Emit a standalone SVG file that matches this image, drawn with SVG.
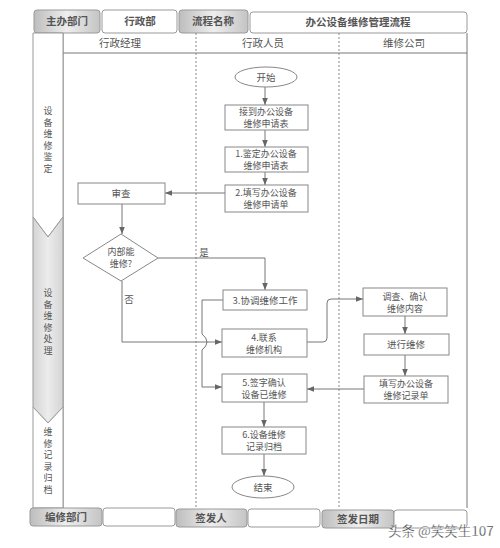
<svg xmlns="http://www.w3.org/2000/svg" width="500" height="548" viewBox="0 0 500 548">
<defs>
<linearGradient id="tabg" x1="0" y1="0" x2="1" y2="0">
<stop offset="0" stop-color="#bdbdbd"/>
<stop offset="0.5" stop-color="#eeeeee"/>
<stop offset="1" stop-color="#c4c4c4"/>
</linearGradient>
<linearGradient id="stg" x1="0" y1="0" x2="1" y2="0">
<stop offset="0" stop-color="#d4d4d4"/>
<stop offset="0.5" stop-color="#ececec"/>
<stop offset="1" stop-color="#d4d4d4"/>
</linearGradient>
<marker id="ah" viewBox="0 0 10 10" refX="10" refY="5" markerWidth="7" markerHeight="7" orient="auto" markerUnits="userSpaceOnUse">
<path d="M0,1 L10,5 L0,9 Z" fill="#666"/>
</marker>
<style>
.tab{fill:url(#tabg);stroke:#999;stroke-width:1}
.wtab{fill:#fff;stroke:#999;stroke-width:1}
.ht{font-family:"Noto Sans CJK SC",sans-serif;font-size:10.5px;font-weight:bold;fill:#555;text-anchor:middle}
.lt{font-family:"Noto Sans CJK SC",sans-serif;font-size:10.5px;fill:#555;text-anchor:middle}
.nt{font-family:"Noto Sans CJK SC",sans-serif;font-size:9.5px;fill:#555;text-anchor:middle}
.nt2{font-family:"Noto Sans CJK SC",sans-serif;font-size:9px;fill:#555;text-anchor:middle}
.box{fill:#fff;stroke:#888;stroke-width:1}
.ln{fill:none;stroke:#777;stroke-width:1}
.ar{fill:none;stroke:#777;stroke-width:1;marker-end:url(#ah)}
.dash{stroke:#888;stroke-width:1;stroke-dasharray:2,2}
.st{font-family:"Noto Sans CJK SC",sans-serif;font-size:9px;fill:#555;text-anchor:middle}
</style>
</defs>
<rect width="500" height="548" fill="#fff"/>
<!-- header -->
<g id="header">
<rect class="tab" x="34" y="10" width="66" height="23" rx="3"/>
<text class="ht" x="67" y="25">主办部门</text>
<rect class="wtab" x="102" y="10" width="75" height="23" rx="3"/>
<text class="ht" x="140" y="25">行政部</text>
<rect class="tab" x="179" y="10" width="69" height="23" rx="3"/>
<text class="ht" x="213" y="25">流程名称</text>
<rect class="wtab" x="250" y="12" width="217" height="21" rx="3"/>
<text class="ht" x="358" y="26">办公设备维修管理流程</text>
</g>
<!-- table frame -->
<g id="table">
<line class="ln" x1="63" y1="53" x2="467" y2="53"/>
<line class="ln" x1="63" y1="33" x2="63" y2="508"/>
<line class="ln" x1="467" y1="33" x2="467" y2="508"/>
<line class="dash" x1="196" y1="33" x2="196" y2="508"/>
<line class="dash" x1="339" y1="33" x2="339" y2="508"/>
<text class="lt" x="120" y="47">行政经理</text>
<text class="lt" x="263" y="47">行政人员</text>
<text class="lt" x="404" y="47">维修公司</text>
</g>
<!-- stages -->
<g id="stage1">
<path d="M33,33 H63 V217 L48,237 L33,217 Z" fill="#fff" stroke="#999"/>
<text class="st"><tspan x="48" y="114">设</tspan><tspan x="48" y="125.5">备</tspan><tspan x="48" y="137">维</tspan><tspan x="48" y="148.5">修</tspan><tspan x="48" y="160">鉴</tspan><tspan x="48" y="171.5">定</tspan></text>
</g>
<g id="stage2">
<path d="M33,217 L48,237 L63,217 V407 L48,423 L33,407 Z" fill="url(#stg)" stroke="#999"/>
<text class="st"><tspan x="48" y="296">设</tspan><tspan x="48" y="307.5">备</tspan><tspan x="48" y="319">维</tspan><tspan x="48" y="330.5">修</tspan><tspan x="48" y="342">处</tspan><tspan x="48" y="353.5">理</tspan></text>
</g>
<g id="stage3">
<path d="M33,407 L48,423 L63,407 V508 H33 Z" fill="#fff" stroke="#999"/>
<text class="st"><tspan x="48" y="435">维</tspan><tspan x="48" y="446.5">修</tspan><tspan x="48" y="458">记</tspan><tspan x="48" y="469.5">录</tspan><tspan x="48" y="481">归</tspan><tspan x="48" y="492.5">档</tspan></text>
</g>
<!-- footer -->
<g id="footer">
<rect class="tab" x="30" y="508" width="72" height="18" rx="3"/>
<text class="ht" x="66" y="521">编修部门</text>
<rect class="wtab" x="103" y="508" width="72" height="18" rx="3"/>
<rect class="tab" x="176" y="509" width="71" height="18" rx="3"/>
<text class="ht" x="211" y="522">签发人</text>
<rect class="wtab" x="248" y="509" width="72" height="18" rx="3"/>
<rect class="tab" x="322" y="510" width="72" height="18" rx="3"/>
<text class="ht" x="358" y="523">签发日期</text>
<rect class="wtab" x="394" y="510" width="73" height="18" rx="3"/>
</g>
<!-- connectors -->
<g id="connectors">
<line class="ar" x1="265" y1="87" x2="265" y2="105"/>
<line class="ar" x1="265" y1="130" x2="265" y2="147"/>
<line class="ar" x1="265" y1="172" x2="265" y2="185"/>
<line class="ar" x1="225" y1="193" x2="165" y2="193"/>
<line class="ar" x1="122" y1="204" x2="122" y2="234"/>
<path class="ar" d="M158,258 H265 V290"/>
<text class="nt" x="204" y="256">是</text>
<path class="ar" d="M122,281 V342 H222"/>
<text class="nt" x="129" y="303">否</text>
<path class="ar" d="M223,300 H202 V334 Q212,342 202,350 V387 H222"/>
<path class="ar" d="M307,342 H323 Q327,342 327,338 V303 Q327,299 331,299 H363"/>
<line class="ar" x1="405" y1="316" x2="405" y2="334"/>
<line class="ar" x1="405" y1="355" x2="405" y2="376"/>
<line class="ar" x1="364" y1="389" x2="307" y2="389"/>
<line class="ar" x1="264" y1="402" x2="264" y2="427"/>
<line class="ar" x1="264" y1="454" x2="264" y2="476"/>
</g>
<!-- nodes -->
<g id="start"><ellipse class="box" cx="266" cy="77" rx="31" ry="10"/><text class="nt" x="266" y="81">开始</text></g>
<g id="n0"><rect class="box" x="225" y="105" width="83" height="25"/><text class="nt2"><tspan x="266" y="115">接到办公设备</tspan><tspan x="266" y="127">维修申请表</tspan></text></g>
<g id="n1"><rect class="box" x="225" y="147" width="83" height="25"/><text class="nt2"><tspan x="266" y="157">1.鉴定办公设备</tspan><tspan x="266" y="169">维修申请表</tspan></text></g>
<g id="n2"><rect class="box" x="225" y="185" width="83" height="27"/><text class="nt2"><tspan x="266" y="196">2.填写办公设备</tspan><tspan x="266" y="208">维修申请单</tspan></text></g>
<g id="review"><rect class="box" x="78" y="183" width="87" height="21"/><text class="nt" x="121" y="197">审查</text></g>
<g id="decision"><path class="box" d="M121,234 L158,258 L121,281 L83,258 Z"/><text class="nt2"><tspan x="121" y="255">内部能</tspan><tspan x="121" y="267">维修?</tspan></text></g>
<g id="n3"><rect class="box" x="223" y="290" width="84" height="20"/><text class="nt" x="265" y="304">3.协调维修工作</text></g>
<g id="n4"><rect class="box" x="222" y="329" width="85" height="28"/><text class="nt2"><tspan x="264" y="340.5">4.联系</tspan><tspan x="264" y="352.5">维修机构</tspan></text></g>
<g id="n5"><rect class="box" x="222" y="374" width="85" height="28"/><text class="nt2"><tspan x="264" y="385.5">5.签字确认</tspan><tspan x="264" y="397.5">设备已维修</tspan></text></g>
<g id="n6"><rect class="box" x="222" y="427" width="84" height="27"/><text class="nt2"><tspan x="264" y="438">6.设备维修</tspan><tspan x="264" y="450">记录归档</tspan></text></g>
<g id="end"><ellipse class="box" cx="263" cy="487" rx="31" ry="11"/><text class="nt" x="263" y="491">结束</text></g>
<g id="c1"><rect class="box" x="363" y="288" width="84" height="28"/><text class="nt2"><tspan x="405" y="299.5">调查、确认</tspan><tspan x="405" y="311.5">维修内容</tspan></text></g>
<g id="c2"><rect class="box" x="364" y="334" width="85" height="21"/><text class="nt" x="406" y="348">进行维修</text></g>
<g id="c3"><rect class="box" x="364" y="376" width="84" height="27"/><text class="nt2"><tspan x="406" y="387">填写办公设备</tspan><tspan x="406" y="399">维修记录单</tspan></text></g>
<text x="388" y="536" font-family="'Noto Sans CJK SC',sans-serif" font-size="13.5px" fill="#333" stroke="#fff" stroke-width="0.3">头条 @笑笑生107</text>
</svg>
